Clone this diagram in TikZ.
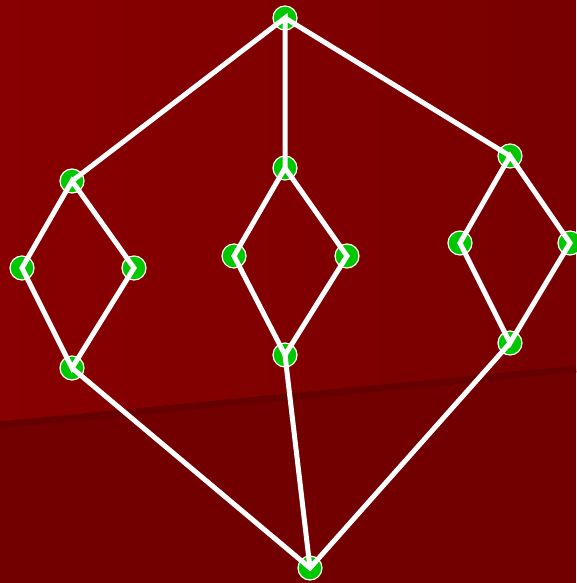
\documentclass[tikz,border=0pt]{standalone}
\usetikzlibrary{positioning}
\definecolor{bgtop}{HTML}{880000}
\definecolor{bgright}{HTML}{780000}
\definecolor{bglow}{HTML}{720000}
\definecolor{bgedge}{HTML}{660000}
\definecolor{vgreen}{HTML}{00C800}

\begin{document}
\begin{tikzpicture}[x=1pt, y=-1pt,
  vtx/.style={circle, fill=vgreen, draw=white, line width=1.2pt, minimum size=24pt, inner sep=0pt},
  edge/.style={draw=white, line width=5pt, line join=miter}]
  % background
  \useasboundingbox (0,0) rectangle (576,583);
  \fill[bglow] (0,0) rectangle (576,583);
  \shade[left color=bgtop, right color=bgright] (0,0) -- (576,0) -- (576,366) -- (0,422) -- cycle;
  \draw[bgedge, line width=7pt] (0,425) -- (576,369);
  % vertices
  \node[vtx] (top) at (285,18) {};
  \node[vtx] (lt) at (72,181) {};
  \node[vtx] (ll) at (22,268) {};
  \node[vtx] (lr) at (134,268) {};
  \node[vtx] (lb) at (72,368) {};
  \node[vtx] (mt) at (285,168) {};
  \node[vtx] (ml) at (234,256) {};
  \node[vtx] (mr) at (347,256) {};
  \node[vtx] (mb) at (285,355) {};
  \node[vtx] (rt) at (510,156) {};
  \node[vtx] (rl) at (460,243) {};
  \node[vtx] (rr) at (570,243) {};
  \node[vtx] (rb) at (510,343) {};
  \node[vtx] (bot) at (310,568) {};
  % edges
  \path[edge] (lt.center) -- (top.center) -- (mt.center);
  \path[edge] (top.center) -- (rt.center);
  \path[edge] (lt.center) -- (ll.center) -- (lb.center) -- (lr.center) -- cycle;
  \path[edge] (mt.center) -- (ml.center) -- (mb.center) -- (mr.center) -- cycle;
  \path[edge] (rt.center) -- (rl.center) -- (rb.center) -- (rr.center) -- cycle;
  \path[edge] (lb.center) -- (bot.center) -- (rb.center);
  \path[edge] (mb.center) -- (bot.center);
\end{tikzpicture}
\end{document}
